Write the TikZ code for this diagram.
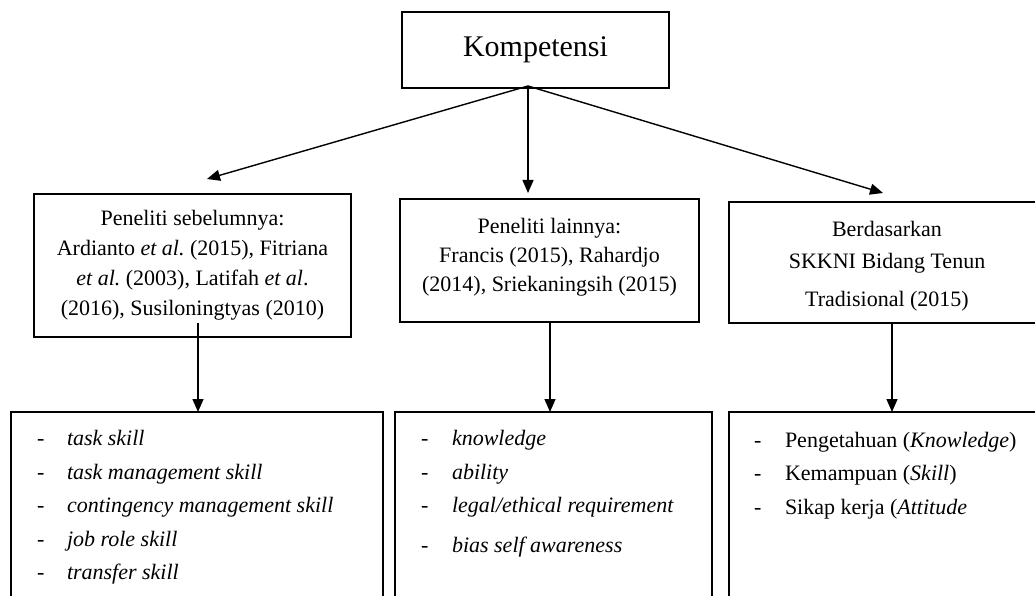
\documentclass[tikz,border=0pt]{standalone}
\usepackage{fontspec}
\setmainfont{Liberation Serif}
\usetikzlibrary{arrows.meta}
\frenchspacing
\begin{document}
\begin{tikzpicture}[x=1pt,y=-1pt,
  box/.style={draw, line width=1.3pt, rectangle, inner sep=0pt, outer sep=0pt},
  midtext/.style={align=center, inner sep=0pt, font=\fontsize{22}{30}\selectfont},
  listnode/.style={anchor=north west, inner sep=0pt, outer sep=0pt, font=\fontsize{22}{33.5}\selectfont},
  arr/.style={line width=1.4pt, -{Triangle[length=13pt,width=11pt]}}]
\useasboundingbox (0,0) rectangle (1035,596);
\clip (0,0) rectangle (1035,596);
\fill[white] (0,0) rectangle (1035,596);

% top node
\node[box, minimum width=267pt, minimum height=76pt, font=\fontsize{30}{36}\selectfont]
  (komp) at (535.5,50) {Kompetensi};
\coordinate (hub) at (528,86);

% middle row: boxes
\node[box, minimum width=317pt, minimum height=143pt] (lmid) at (192.5,265.5) {};
\node[box, minimum width=299pt, minimum height=123pt] (cmid) at (549.5,260.5) {};
\node[box, minimum width=316pt, minimum height=121pt] (rmid) at (887,262.5) {};

% middle row: texts
\node[midtext] (ltxt) at (192.5,265.5)
  {Peneliti sebelumnya:\\
   Ardianto \textit{et al.}\ (2015), Fitriana\\
   \textit{et al.}\ (2003), Latifah \textit{et al}.\\
   (2016), Susiloningtyas (2010)};
\node[midtext, font=\fontsize{22}{29}\selectfont] (ctxt) at (549.5,257)
  {Peneliti lainnya:\\
   Francis (2015), Rahardjo\\
   (2014), Sriekaningsih (2015)};
\node[midtext, font=\fontsize{22}{32}\selectfont] (rtxt) at (887,266)
  {Berdasarkan\\
   SKKNI Bidang Tenun\\[6pt]
   Tradisional (2015)};

% bottom row
\node[box, minimum width=372pt, minimum height=228pt] (blft) at (197,526) {};
\node[box, minimum width=317pt, minimum height=228pt] (bctr) at (553.5,526) {};
\node[box, minimum width=316pt, minimum height=228pt] (brgt) at (887,526) {};

\node[listnode] (llist) at (37,422.5) {%
  \begin{tabular}{@{}p{30pt}@{}l@{}}
  - & \textit{task skill}\\
  - & \textit{task management skill}\\
  - & \textit{contingency management skill}\\
  - & \textit{job role skill}\\
  - & \textit{transfer skill}
  \end{tabular}};
\node[listnode] (clist) at (421,422.5) {%
  \begin{tabular}{@{}p{31pt}@{}l@{}}
  - & \textit{knowledge}\\
  - & \textit{ability}\\
  - & \textit{legal/ethical requirement}\\[6pt]
  - & \textit{bias self awareness}
  \end{tabular}};
\node[listnode] (rlist) at (754,424) {%
  \begin{tabular}{@{}p{31pt}@{}l@{}}
  - & Pengetahuan (\textit{Knowledge})\\
  - & Kemampuan (\textit{Skill})\\
  - & Sikap kerja (\textit{Attitude}
  \end{tabular}};

% connectors
\draw[arr] (hub) -- ([xshift=14.5pt,yshift=15pt]lmid.north);
\draw[arr] (hub) -- ([xshift=-21.5pt,yshift=6pt]cmid.north);
\draw[arr] (hub) -- ([xshift=-4pt,yshift=9pt]rmid.north);
\draw[arr] ([xshift=5.5pt,yshift=14pt]lmid.south) -- ([xshift=1pt]blft.north);
\draw[arr] ([xshift=0.5pt]cmid.south) -- ([xshift=-3.5pt]bctr.north);
\draw[arr] ([xshift=5pt]rmid.south) -- ([xshift=5pt]brgt.north);
\end{tikzpicture}
\end{document}
